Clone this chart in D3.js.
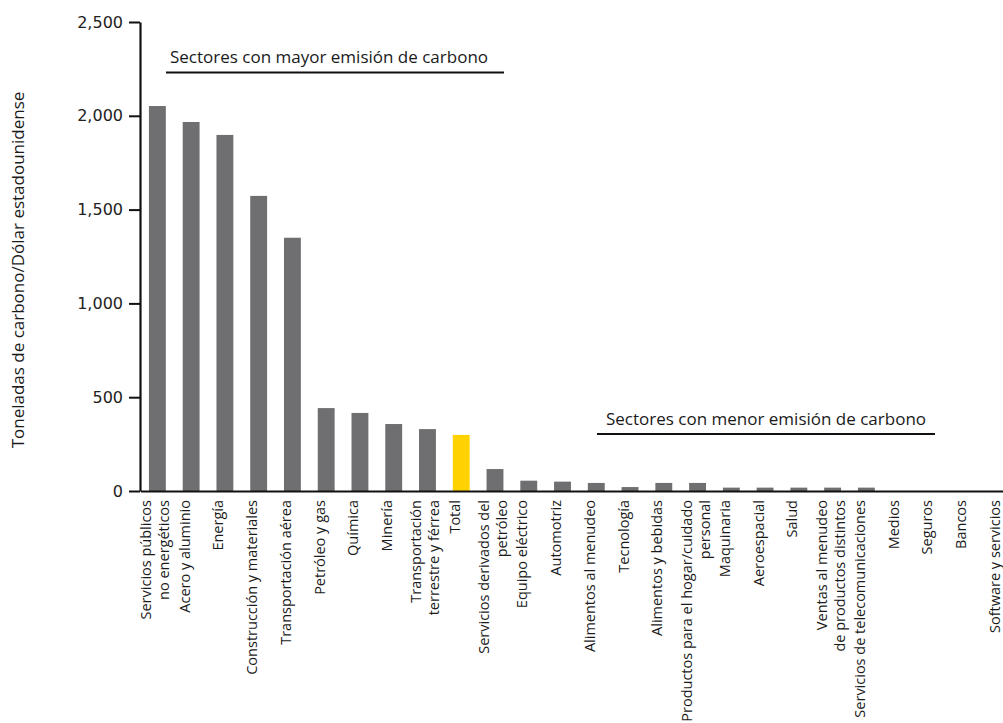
<!DOCTYPE html>
<html>
<head>
<meta charset="utf-8">
<script src="https://cdn.jsdelivr.net/npm/d3@7"></script>
<style>
  body { margin: 0; background: #fff; }
  .ytick text { font-family: "DejaVu Sans", Verdana, sans-serif; font-size: 16px; fill: #222; }
  .cat { font-family: "Open Sans", sans-serif; font-size: 14.5px; fill: #1a1a1a; }
  .note { font-family: "Open Sans", sans-serif; font-size: 17px; fill: #1a1a1a; }
</style>
</head>
<body>
<div id="chart"></div>
<script>
(function() {
'use strict';

// sectors, in drawing order (line breaks as in the original)
const categories = [
  ["Servicios públicos", "no energéticos"],
  ["Acero y aluminio"],
  ["Energía"],
  ["Construcción y materiales"],
  ["Transportación aérea"],
  ["Petróleo y gas"],
  ["Química"],
  ["Minería"],
  ["Transportación", "terrestre y férrea"],
  ["Total"],
  ["Servicios derivados del", "petróleo"],
  ["Equipo eléctrico"],
  ["Automotriz"],
  ["Alimentos al menudeo"],
  ["Tecnología"],
  ["Alimentos y bebidas"],
  ["Productos para el  hogar/cuidado", "personal"],
  ["Maquinaria"],
  ["Aeroespacial"],
  ["Salud"],
  ["Ventas al  menudeo", "de productos distintos"],
  ["Servicios de telecomunicaciones"],
  ["Medios"],
  ["Seguros"],
  ["Bancos"],
  ["Software y servicios"]
];

const values = [2052, 1967, 1898, 1573, 1350, 442, 416, 357, 330, 299,
                117, 55, 50, 43, 21, 43, 43, 18, 18, 18, 18, 18, 0, 0, 0, 0];

const yTicks = [0, 500, 1000, 1500, 2000, 2500];

const yTitle = "Toneladas de carbono/Dólar estadounidense";
const noteHigh = "Sectores con mayor emisión de carbono";
const noteLow = "Sectores con menor emisión de carbono";

const W = 1003;
const H = 723;
const GREY = "#6f6f71";
const YELLOW = "#ffd200";

const keys = categories.map((c) => c.join(" "));

const svg = d3.select("#chart")
  .append("svg")
    .attr("width", W)
    .attr("height", H);

const xScale = d3.scaleBand()
  .domain(keys)
  .range([140.5, 1018.3])
  .paddingInner(0.5)
  .paddingOuter(0.25);

const yScale = d3.scaleLinear()
  .domain([0, 2500])
  .range([491, 22]);

// bars
svg.selectAll("rect.bar")
  .data(values)
  .enter()
  .append("rect")
    .attr("class", "bar")
    .attr("x", (d, i) => xScale(keys[i]))
    .attr("y", (d) => yScale(d))
    .attr("width", xScale.bandwidth())
    .attr("height", (d) => yScale(0) - yScale(d))
    .attr("fill", (d, i) => keys[i] === "Total" ? YELLOW : GREY);

// x axis line
const xAxis = d3.axisBottom(xScale).tickSize(0).tickFormat("");
svg.append("g")
  .attr("transform", `translate(0, ${yScale(0)})`)
  .call(xAxis)
  .call((g) => g.select(".domain").attr("stroke", "#111").attr("stroke-width", 2));

// y axis
const yAxis = d3.axisLeft(yScale)
  .tickValues(yTicks)
  .tickSize(11)
  .tickSizeOuter(0)
  .tickPadding(6)
  .tickFormat(d3.format(","));

svg.append("g")
  .attr("class", "ytick")
  .attr("transform", "translate(140, 0)")
  .call(yAxis)
  .call((g) => g.select(".domain").attr("stroke", "#111").attr("stroke-width", 2.2))
  .call((g) => g.selectAll(".tick line").attr("stroke", "#111").attr("stroke-width", 2))
  .call((g) => g.selectAll(".tick text").attr("fill", "#222"));

// category labels, rotated
const labels = svg.selectAll("text.cat")
  .data(categories)
  .enter()
  .append("text")
    .attr("class", "cat")
    .attr("text-anchor", "end")
    .attr("transform", (d, i) =>
      `translate(${xScale(keys[i]) + xScale.bandwidth() / 2}, 500) rotate(-90)`);

labels.selectAll("tspan")
  .data((d) => d.map((t, j) => ({ t: t, j: j, n: d.length })))
  .enter()
  .append("tspan")
    .attr("x", 0)
    .attr("y", (d) => d.n === 1 ? -1.5 : (d.j === 0 ? -6 : 12))
    .text((d) => d.t);

// y axis title
svg.append("text")
  .attr("class", "note")
  .attr("text-anchor", "middle")
  .attr("fill", "#333")
  .attr("font-size", 17.5)
  .attr("transform", "translate(24, 270) rotate(-90)")
  .text(yTitle);

// annotations
svg.append("text")
  .attr("class", "note")
  .attr("x", 170)
  .attr("y", 63)
  .text(noteHigh);
svg.append("line")
  .attr("x1", 166).attr("x2", 504)
  .attr("y1", 72.5).attr("y2", 72.5)
  .attr("stroke", "#111")
  .attr("stroke-width", 2);

svg.append("text")
  .attr("class", "note")
  .attr("x", 606)
  .attr("y", 425)
  .text(noteLow);
svg.append("line")
  .attr("x1", 597).attr("x2", 935)
  .attr("y1", 434).attr("y2", 434)
  .attr("stroke", "#111")
  .attr("stroke-width", 2);

})();
</script>
</body>
</html>
